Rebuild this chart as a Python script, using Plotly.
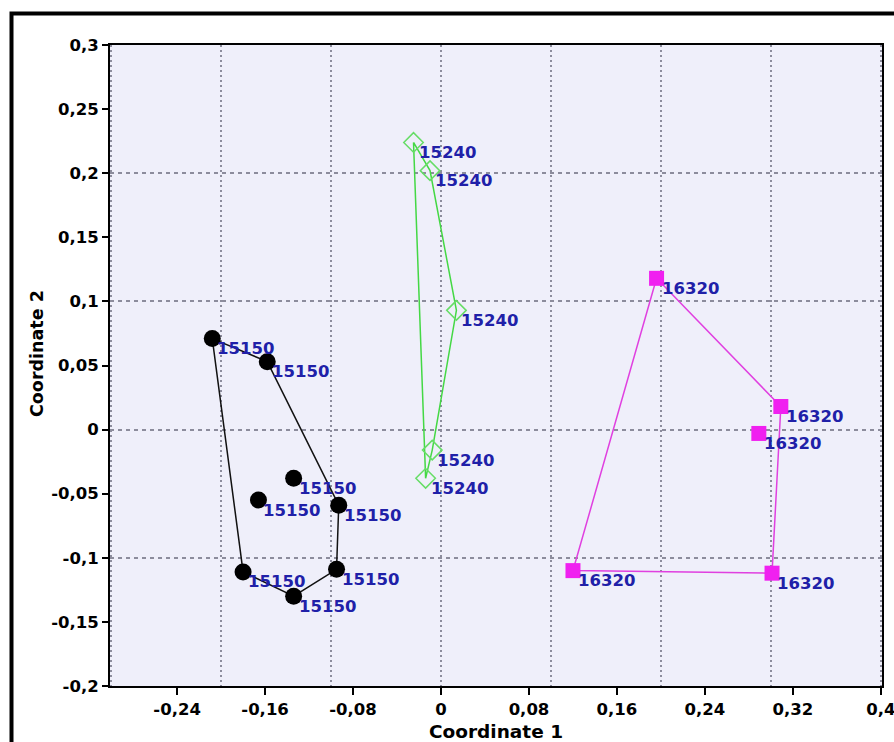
import plotly.graph_objects as go

# ---- data ----
x_15150 = [-0.208, -0.158, -0.134, -0.166, -0.093, -0.180, -0.095, -0.134]
y_15150 = [0.071, 0.053, -0.038, -0.055, -0.059, -0.111, -0.109, -0.130]
hull_15150 = [0, 1, 4, 6, 7, 5, 0]

x_15240 = [-0.025, -0.010, 0.014, -0.008, -0.014]
y_15240 = [0.224, 0.202, 0.093, -0.016, -0.038]
hull_15240 = [0, 1, 2, 3, 4, 0]

x_16320 = [0.196, 0.309, 0.289, 0.120, 0.301]
y_16320 = [0.118, 0.018, -0.003, -0.110, -0.112]
hull_16320 = [0, 1, 4, 3, 0]

x_tickvals = [-0.24, -0.16, -0.08, 0, 0.08, 0.16, 0.24, 0.32, 0.4]
x_ticktext = ["-0,24", "-0,16", "-0,08", "0", "0,08", "0,16", "0,24", "0,32", "0,4"]
y_tickvals = [0.3, 0.25, 0.2, 0.15, 0.1, 0.05, 0, -0.05, -0.1, -0.15, -0.2]
y_ticktext = ["0,3", "0,25", "0,2", "0,15", "0,1", "0,05", "0", "-0,05", "-0,1", "-0,15", "-0,2"]

X_RANGE = [-0.301, 0.401]
Y_RANGE = [-0.2, 0.3]

groups = [
    ("15150", x_15150, y_15150, hull_15150,
     dict(symbol="circle", size=17, color="#000000"), "#111111"),
    ("15240", x_15240, y_15240, hull_15240,
     dict(symbol="diamond-open", size=15, color="#66DD66", line=dict(width=1.5, color="#66DD66")), "#44D844"),
    ("16320", x_16320, y_16320, hull_16320,
     dict(symbol="square", size=15, color="#F020F0"), "#E040E0"),
]

FONT = "DejaVu Sans"
LABEL_COLOR = "#2020A8"

fig = go.Figure()

# grid-only overlay axes (grid every 0.1)
fig.add_trace(go.Scatter(x=[], y=[], xaxis="x2", yaxis="y2", showlegend=False, hoverinfo="skip"))

annotations = []
for name, xs, ys, hull, marker, lcolor in groups:
    fig.add_trace(go.Scatter(
        x=[xs[i] for i in hull], y=[ys[i] for i in hull],
        mode="lines", line=dict(color=lcolor, width=1.5),
        showlegend=False, hoverinfo="skip"))
for name, xs, ys, hull, marker, lcolor in groups:
    fig.add_trace(go.Scatter(
        x=xs, y=ys, mode="markers", marker=marker, name=name, showlegend=False))
    for xv, yv in zip(xs, ys):
        annotations.append(dict(
            x=xv, y=yv, xref="x", yref="y", text=name, showarrow=False,
            xanchor="left", yanchor="middle", xshift=3, yshift=-10,
            font=dict(family=FONT, size=16.5, color=LABEL_COLOR, weight="bold")))

annotations.append(dict(
    x=(37 - 110) / 772, y=(686 - 354) / 641, xref="paper", yref="paper",
    text="Coordinate 2", textangle=-90, showarrow=False,
    xanchor="center", yanchor="middle",
    font=dict(family=FONT, size=17.5, color="black", weight="bold")))

fig.update_layout(
    width=894, height=742,
    margin=dict(l=110, r=12, t=45, b=56, autoexpand=False),
    paper_bgcolor="white",
    plot_bgcolor="#EFEFFA",
    showlegend=False,
    annotations=annotations,
    font=dict(family=FONT, color="black"),
    xaxis=dict(
        range=X_RANGE, tickvals=x_tickvals, ticktext=x_ticktext,
        ticks="outside", ticklen=7, tickwidth=2, tickcolor="black",
        showgrid=False, zeroline=False, automargin=False, ticklabeloverflow="allow",
        showline=True, linecolor="black", linewidth=2, mirror=True,
        tickfont=dict(family=FONT, size=16.5, color="black", weight="bold"),
        title=dict(text="Coordinate 1", standoff=8,
                   font=dict(family=FONT, size=18.5, color="black", weight="bold")),
    ),
    yaxis=dict(
        range=Y_RANGE, tickvals=y_tickvals, ticktext=y_ticktext,
        ticks="outside", ticklen=6, tickwidth=2, tickcolor="black",
        showgrid=False, zeroline=False, automargin=False, ticklabeloverflow="allow",
        showline=True, linecolor="black", linewidth=2, mirror=True,
        tickfont=dict(family=FONT, size=16.5, color="black", weight="bold"),
    ),
    xaxis2=dict(
        overlaying="x", anchor="y2", range=X_RANGE, tick0=0, dtick=0.1,
        showgrid=True, gridcolor="#8C8C9C", gridwidth=1.5, griddash="2px,3px",
        showticklabels=False, ticks="", showline=False, zeroline=False, automargin=False,
    ),
    yaxis2=dict(
        overlaying="y", anchor="x2", range=Y_RANGE, tick0=0, dtick=0.1,
        showgrid=True, gridcolor="#8C8C9C", gridwidth=1.5, griddash="4px,4px",
        showticklabels=False, ticks="", showline=False, zeroline=False, automargin=False,
    ),
    shapes=[dict(
        type="rect", xref="paper", yref="paper",
        x0=(11.5 - 110) / 772, x1=1.06, y0=-0.15, y1=1 + (45 - 13.5) / 641,
        line=dict(color="black", width=4), fillcolor="rgba(0,0,0,0)", layer="above")],
)

fig.write_html("out.html")
